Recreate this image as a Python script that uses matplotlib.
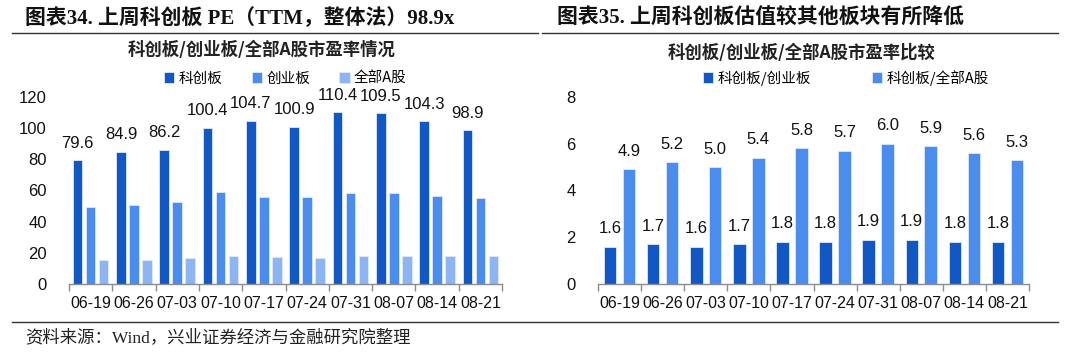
import matplotlib
matplotlib.use("Agg")
import matplotlib.pyplot as plt
import numpy as np
from matplotlib.lines import Line2D

plt.rcParams['font.family'] = ['Noto Sans CJK SC', 'DejaVu Sans']

dates = ["06-19", "06-26", "07-03", "07-10", "07-17", "07-24", "07-31", "08-07", "08-14", "08-21"]
star_pe = [79.6, 84.9, 86.2, 100.4, 104.7, 100.9, 110.4, 109.5, 104.3, 98.9]
chinext_pe = [49.6, 50.6, 52.4, 58.8, 56.0, 55.6, 58.6, 58.2, 56.5, 55.0]
all_a_pe = [15.5, 15.7, 16.6, 18.1, 17.2, 17.0, 17.9, 18.1, 18.1, 18.1]
ratio_chinext = [1.6, 1.7, 1.6, 1.7, 1.8, 1.8, 1.9, 1.9, 1.8, 1.8]
ratio_all_a = [4.9, 5.2, 5.0, 5.4, 5.8, 5.7, 6.0, 5.9, 5.6, 5.3]

c_dark = "#1258C4"
c_mid = "#4B8DEE"
c_light = "#8DB5F4"
edge = "#DDE8FA"

W, H = 1080, 352
fig = plt.figure(figsize=(W / 100, H / 100), dpi=100)

num_font = 'Liberation Sans'
serif_mix = ['Liberation Serif', 'Noto Sans CJK SC']

def px(x0, y0, x1, y1):
    return [x0 / W, 1 - y1 / H, (x1 - x0) / W, (y1 - y0) / H]

# ---------- Left chart ----------
ax1 = fig.add_axes(px(69, 97, 502, 284))
x = np.arange(len(dates))
bw = 0.22
ax1.bar(x - 0.3, star_pe, bw, color=c_dark, edgecolor=edge, linewidth=0.6, label="科创板")
ax1.bar(x, chinext_pe, bw, color=c_mid, edgecolor=edge, linewidth=0.6, label="创业板")
ax1.bar(x + 0.3, all_a_pe, bw, color=c_light, edgecolor=edge, linewidth=0.6, label="全部A股")
for xi, v in zip(x, star_pe):
    ax1.text(xi - 0.3, v + 6, f"{v:.1f}", ha='center', va='bottom', fontsize=12,
             family=num_font, color='#111111')
ax1.set_ylim(0, 120)
ax1.set_xlim(-0.5, len(dates) - 0.5)
ax1.set_yticks(range(0, 121, 20))

# ---------- Right chart ----------
ax2 = fig.add_axes(px(598, 97, 1029, 284))
bw2 = 0.29
ax2.bar(x - 0.22, ratio_chinext, bw2, color=c_dark, edgecolor=edge, linewidth=0.6, label="科创板/创业板")
ax2.bar(x + 0.22, ratio_all_a, bw2, color=c_mid, edgecolor=edge, linewidth=0.6, label="科创板/全部A股")
for xi, v in zip(x, ratio_chinext):
    ax2.text(xi - 0.22, v + 0.45, f"{v:.1f}", ha='center', va='bottom', fontsize=12,
             family=num_font, color='#111111')
for xi, v in zip(x, ratio_all_a):
    ax2.text(xi + 0.22, v + 0.45, f"{v:.1f}", ha='center', va='bottom', fontsize=12,
             family=num_font, color='#111111')
ax2.set_ylim(0, 8)
ax2.set_xlim(-0.5, len(dates) - 0.5)
ax2.set_yticks(range(0, 9, 2))

for ax in (ax1, ax2):
    for s in ('top', 'right', 'left'):
        ax.spines[s].set_visible(False)
    ax.spines['bottom'].set_color('#8C8C8C')
    ax.spines['bottom'].set_linewidth(1.0)
    ax.tick_params(axis='y', length=0, pad=16, labelsize=12)
    ax.set_xticks(x)
    ax.set_xticklabels(dates)
    ax.set_xticks(np.arange(-0.5, len(dates), 1), minor=True)
    ax.tick_params(axis='x', which='major', length=0, pad=9, labelsize=11.5)
    ax.tick_params(axis='x', which='minor', length=5, color='#8C8C8C', width=1.0)
    for lab in ax.get_xticklabels() + ax.get_yticklabels():
        lab.set_family(num_font)
        lab.set_color('#111111')

# legends
leg1 = ax1.legend(loc='lower center', bbox_to_anchor=(0.5, 1.03), ncol=3, frameon=False,
                  fontsize=10.5, handlelength=0.7, handleheight=0.7, handletextpad=0.3,
                  columnspacing=2.0, borderaxespad=0)
leg2 = ax2.legend(loc='lower center', bbox_to_anchor=(0.575, 1.03), ncol=2, frameon=False,
                  fontsize=10.5, handlelength=0.7, handleheight=0.7, handletextpad=0.3,
                  columnspacing=4.15, borderaxespad=0)

# titles
fig.text(25 / W, 1 - 19 / H, "图表34. 上周科创板 PE（TTM，整体法）98.9x", fontsize=15,
         fontweight='bold', va='center', ha='left', color='#111111', family=serif_mix)
fig.text(557 / W, 1 - 19 / H, "图表35. 上周科创板估值较其他板块有所降低", fontsize=15,
         fontweight='bold', va='center', ha='left', color='#111111', family=serif_mix)
fig.text(262 / W, 1 - 50 / H, "科创板/创业板/全部A股市盈率情况", fontsize=12.5,
         fontweight='bold', va='center', ha='center', color='#222222')
fig.text(802 / W, 1 - 53 / H, "科创板/创业板/全部A股市盈率比较", fontsize=12.5,
         fontweight='bold', va='center', ha='center', color='#222222')

# separator lines
fig.add_artist(Line2D([12 / W, 538 / W], [1 - 33 / H] * 2, color='#333333', lw=1.0))
fig.add_artist(Line2D([542 / W, 1058 / W], [1 - 33 / H] * 2, color='#333333', lw=1.0))
fig.add_artist(Line2D([12 / W, 1058 / W], [1 - 322 / H] * 2, color='#333333', lw=1.0))

fig.text(25 / W, 1 - 338 / H, "资料来源：Wind，兴业证券经济与金融研究院整理", fontsize=12.5,
         va='center', ha='left', color='#222222', family=serif_mix)

fig.savefig("out.png", dpi=100)
